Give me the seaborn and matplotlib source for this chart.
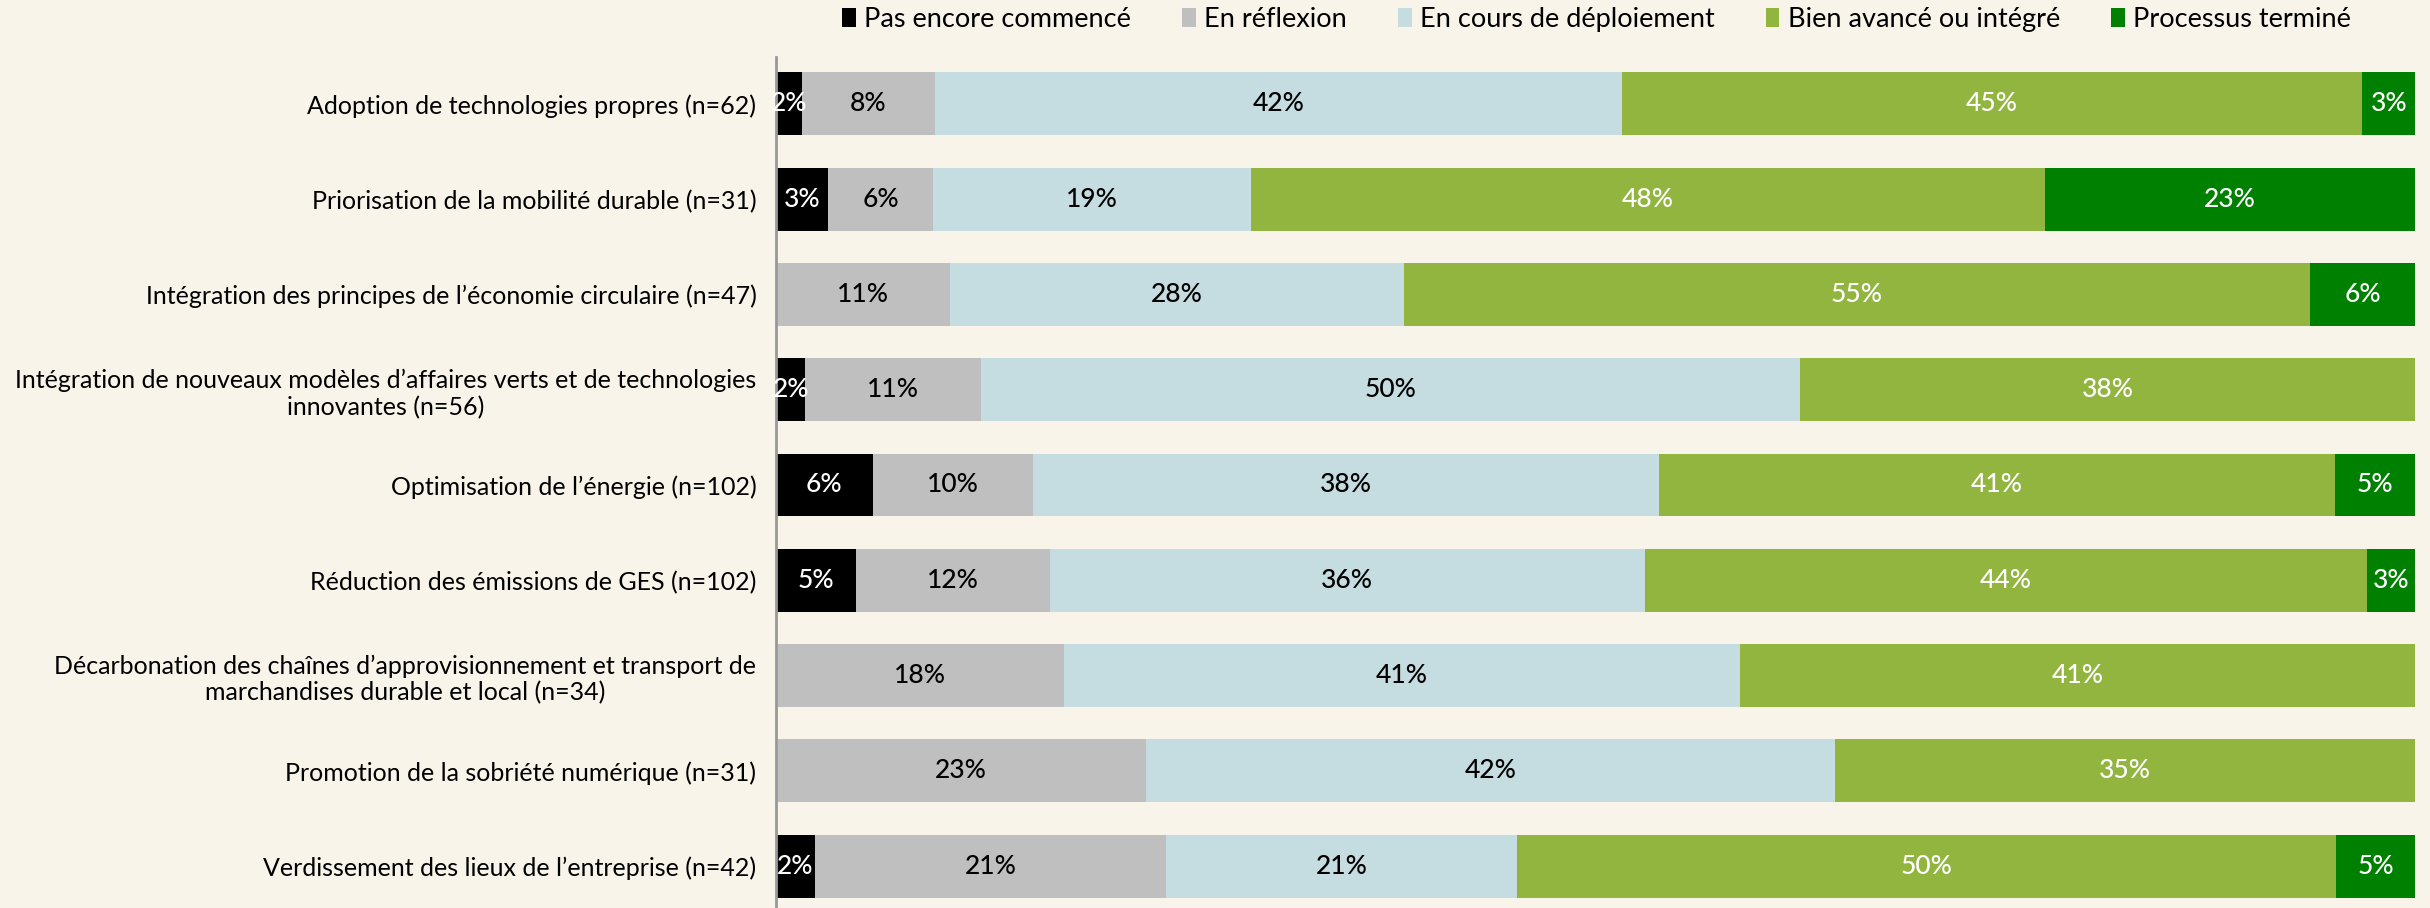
import numpy as np
import pandas as pd
import matplotlib
matplotlib.use("Agg")
import matplotlib.pyplot as plt
from matplotlib.patches import Patch
import seaborn as sns

# --- données (pourcentages) ---
categories = [
    "Adoption de technologies propres (n=62)",
    "Priorisation de la mobilité durable (n=31)",
    "Intégration des principes de l’économie circulaire (n=47)",
    "Intégration de nouveaux modèles d’affaires verts et de technologies\ninnovantes (n=56)",
    "Optimisation de l’énergie (n=102)",
    "Réduction des émissions de GES (n=102)",
    "Décarbonation des chaînes d’approvisionnement et transport de\nmarchandises durable et local (n=34)",
    "Promotion de la sobriété numérique (n=31)",
    "Verdissement des lieux de l’entreprise (n=42)",
]
series = ["Pas encore commencé", "En réflexion", "En cours de déploiement",
          "Bien avancé ou intégré", "Processus terminé"]

pas_commence = [1.6, 3.2, 0.0, 1.8, 5.9, 4.9, 0.0, 0.0, 2.4]
reflexion = [8.1, 6.4, 10.6, 10.7, 9.8, 11.8, 17.6, 22.6, 21.4]
deploiement = [41.9, 19.4, 27.7, 50.0, 38.2, 36.3, 41.2, 42.0, 21.4]
avance = [45.2, 48.4, 55.3, 37.5, 41.2, 44.1, 41.2, 35.4, 50.0]
termine = [3.2, 22.6, 6.4, 0.0, 4.9, 2.9, 0.0, 0.0, 4.8]

colors = ["#000000", "#bfbfbf", "#c5dce0", "#92b540", "#008000"]
text_colors = ["white", "black", "black", "white", "white"]
BG = "#f8f4ea"

df = pd.DataFrame({"cat": categories})
vals = [pas_commence, reflexion, deploiement, avance, termine]
for name, v in zip(series, vals):
    df[name] = v
cum = df[series].cumsum(axis=1)

plt.rcParams["font.family"] = ["Lato", "DejaVu Sans"]
fig = plt.figure(figsize=(24.3, 9.08), dpi=100, facecolor=BG)
ax = fig.add_axes([0.3193, 0.0, 0.6745, 0.937])
ax.set_facecolor(BG)

# barres empilées : on dessine les cumuls du plus grand au plus petit
for i in range(len(series) - 1, -1, -1):
    sns.barplot(x=cum[series[i]], y=df["cat"], color=colors[i], orient="h",
                width=0.66, saturation=1, ax=ax)

# étiquettes
for i, name in enumerate(series):
    for j, v in enumerate(df[name]):
        if v <= 0:
            continue
        xc = cum[name].iloc[j] - v / 2
        ax.text(xc, j, f"{v:.0f}%", ha="center", va="center",
                color=text_colors[i], fontsize=19, fontweight="medium")

ax.set_xlim(0, 100)
ax.set_ylim(8.44, -0.49)
ax.set_xlabel("")
ax.set_ylabel("")
ax.set_xticks([])
for s in ["top", "right", "bottom"]:
    ax.spines[s].set_visible(False)
ax.spines["left"].set_color("#999999")
ax.spines["left"].set_linewidth(2)
ax.tick_params(axis="y", length=0, pad=14, labelsize=18)
for lbl in ax.get_yticklabels():
    lbl.set_multialignment("center")

handles = [Patch(facecolor=c, label=s) for c, s in zip(colors, series)]
fig.legend(handles=handles, loc="center", bbox_to_anchor=(0.657, 0.979), ncol=5,
           frameon=False, fontsize=19.5, handlelength=0.5, handleheight=0.7,
           handletextpad=0.3, columnspacing=1.9)

plt.savefig("out.png", dpi=100, facecolor=BG)
